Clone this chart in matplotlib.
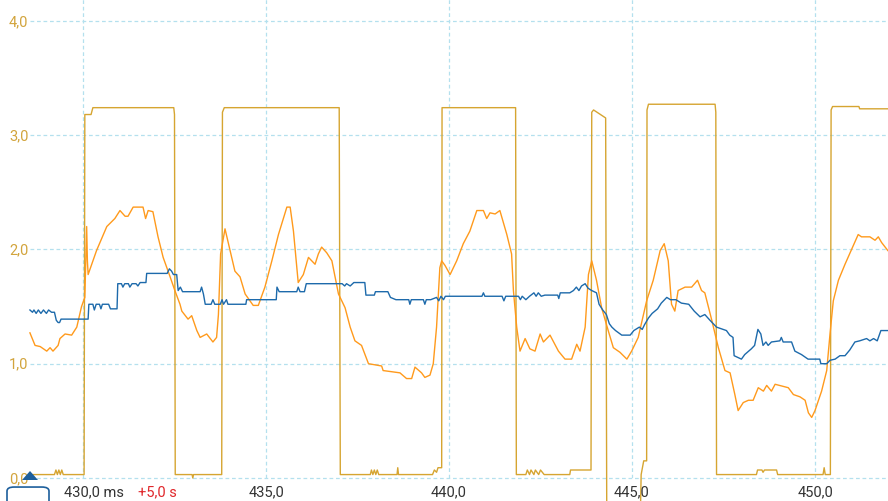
import numpy as np
import matplotlib
matplotlib.use("Agg")
import matplotlib.pyplot as plt
from matplotlib.patches import FancyBboxPatch, Polygon

plt.rcParams['font.family'] = ['Roboto', 'DejaVu Sans']

# gold square wave (V) over time (ms)
gold_t = [428.55, 429.22, 429.26, 429.30, 429.34, 429.38, 429.42, 429.46, 430.03, 430.05, 430.22, 430.27,
          432.48, 432.50, 432.52, 432.98, 433.00, 433.02, 433.79, 433.81, 433.86,
          437.00, 437.03, 437.85, 437.88, 437.92, 437.96, 438.00, 438.04, 438.08, 438.58, 438.60, 438.62,
          439.55, 439.60, 439.66, 439.70, 439.80, 439.81, 441.82, 441.84,
          442.10, 442.14, 442.20, 442.24, 442.32, 442.36, 442.45, 442.50, 442.60, 442.64, 443.30, 443.32,
          443.88, 443.90, 443.95, 444.28, 444.31, 445.23, 445.25, 445.32, 445.40, 445.41, 445.45,
          447.27, 447.29, 447.31, 448.40, 448.43, 448.55, 448.58, 448.62, 448.95, 448.98,
          450.22, 450.25, 450.28, 450.42, 450.44, 450.48, 451.20, 451.22, 451.99]
gold_v = [0.03, 0.03, 0.07, 0.03, 0.07, 0.03, 0.07, 0.03, 0.03, 3.18, 3.18, 3.24,
          3.24, 3.18, 0.03, 0.03, 0.00, 0.03, 0.03, 3.20, 3.24,
          3.24, 0.03, 0.03, 0.07, 0.03, 0.07, 0.03, 0.07, 0.03, 0.03, 0.09, 0.03,
          0.03, 0.07, 0.05, 0.09, 0.09, 3.24, 3.24, 0.03,
          0.03, 0.07, 0.03, 0.07, 0.03, 0.07, 0.03, 0.07, 0.03, 0.03, 0.03, 0.07,
          0.07, 3.20, 3.22, 3.15, -0.30, -0.30, 0.03, 0.15, 0.15, 3.22, 3.27,
          3.27, 3.20, 0.03, 0.03, 0.07, 0.07, 0.05, 0.07, 0.07, 0.03,
          0.03, 0.09, 0.03, 0.03, 3.22, 3.25, 3.25, 3.23, 3.23]

# orange analog signal
orange_t = [428.55, 428.69, 428.83, 429.01, 429.10, 429.18, 429.32, 429.37, 429.51, 429.69, 429.83, 429.96,
            430.05, 430.10, 430.12, 430.14, 430.37, 430.65, 430.87, 431.01, 431.15, 431.23, 431.37, 431.64,
            431.71, 431.78, 431.91, 432.05, 432.19, 432.38, 432.51, 432.65, 432.70, 432.87, 432.97, 433.11,
            433.20, 433.38, 433.55, 433.65, 433.70, 433.76, 433.88, 434.02, 434.15, 434.29, 434.43, 434.65,
            434.79, 434.97, 435.16, 435.34, 435.57, 435.66, 435.75, 435.88, 436.02, 436.16, 436.34, 436.43,
            436.52, 436.66, 436.80, 436.98, 437.16, 437.30, 437.43, 437.61, 437.80, 438.16, 438.20, 438.66,
            438.84, 438.98, 439.07, 439.25, 439.34, 439.48, 439.57, 439.66, 439.75, 439.80, 439.89, 440.03,
            440.21, 440.39, 440.57, 440.76, 440.94, 441.03, 441.12, 441.26, 441.39, 441.58, 441.71, 441.76,
            441.85, 441.94, 442.08, 442.21, 442.35, 442.49, 442.58, 442.76, 442.99, 443.17, 443.35, 443.49,
            443.58, 443.72, 443.81, 443.90, 444.03, 444.17, 444.35, 444.49, 444.67, 444.86, 444.99, 445.17,
            445.40, 445.58, 445.77, 445.88, 445.99, 446.08, 446.17, 446.26, 446.45, 446.63, 446.79, 446.90,
            446.99, 447.18, 447.36, 447.54, 447.68, 447.81, 447.90, 448.04, 448.18, 448.31, 448.45, 448.59,
            448.68, 448.81, 448.91, 449.27, 449.41, 449.59, 449.73, 449.82, 449.91, 450.00, 450.18, 450.32,
            450.41, 450.50, 450.64, 450.82, 451.00, 451.18, 451.27, 451.50, 451.64, 451.73, 451.82, 451.99]
orange_v = [1.27, 1.16, 1.15, 1.11, 1.14, 1.11, 1.16, 1.22, 1.26, 1.25, 1.32, 1.50,
            1.58, 2.20, 1.90, 1.78, 1.99, 2.20, 2.27, 2.34, 2.29, 2.29, 2.37, 2.37,
            2.27, 2.34, 2.33, 2.11, 1.93, 1.76, 1.64, 1.52, 1.46, 1.39, 1.42, 1.29,
            1.23, 1.26, 1.19, 1.23, 1.43, 1.96, 2.18, 1.99, 1.81, 1.76, 1.61, 1.51,
            1.51, 1.67, 1.90, 2.13, 2.37, 2.37, 2.16, 1.71, 1.78, 1.93, 1.87, 1.96,
            2.02, 1.97, 1.90, 1.61, 1.49, 1.32, 1.20, 1.16, 1.00, 0.98, 0.94, 0.92,
            0.87, 0.87, 0.97, 0.92, 0.88, 0.90, 1.00, 1.32, 1.84, 1.90, 1.86, 1.78,
            1.90, 2.05, 2.16, 2.34, 2.34, 2.27, 2.32, 2.31, 2.34, 2.13, 1.96, 1.64,
            1.32, 1.11, 1.22, 1.13, 1.11, 1.26, 1.19, 1.25, 1.11, 1.04, 1.04, 1.17,
            1.11, 1.32, 1.78, 1.90, 1.73, 1.49, 1.29, 1.14, 1.10, 1.04, 1.11, 1.23,
            1.55, 1.73, 1.99, 2.05, 1.90, 1.52, 1.46, 1.64, 1.67, 1.67, 1.73, 1.64,
            1.62, 1.38, 1.14, 0.94, 0.92, 0.73, 0.59, 0.66, 0.68, 0.68, 0.79, 0.76,
            0.81, 0.76, 0.82, 0.79, 0.73, 0.71, 0.68, 0.57, 0.53, 0.59, 0.76, 0.94,
            1.26, 1.55, 1.73, 1.87, 2.00, 2.13, 2.11, 2.11, 2.08, 2.11, 2.06, 1.99]

# blue stepped signal
blue_t = [428.55, 428.62, 428.66, 428.72, 428.78, 428.85, 428.92, 429.00, 429.06, 429.14, 429.22, 429.27,
          429.32, 429.36, 429.40, 430.14, 430.16, 430.27, 430.31, 430.36, 430.45, 430.49, 430.53, 430.70,
          430.75, 430.93, 430.95, 431.05, 431.09, 431.14, 431.24, 431.28, 431.34, 431.45, 431.50, 431.56,
          431.72, 431.74, 432.30, 432.36, 432.42, 432.47, 432.56, 432.60, 432.66, 432.72, 433.20, 433.24,
          433.29, 433.34, 433.50, 433.55, 433.60, 433.75, 433.80, 433.84, 433.92, 433.96, 434.45, 434.47,
          435.28, 435.30, 435.36, 435.84, 435.88, 435.93, 436.05, 436.10, 437.08, 437.15, 437.20, 437.30,
          437.40, 437.70, 437.73, 437.96, 437.99, 438.33, 438.40, 438.55, 438.90, 438.93, 438.97, 439.30,
          439.34, 439.38, 439.50, 439.66, 439.72, 439.78, 439.85, 439.90, 440.90, 440.94, 440.98, 441.45,
          441.50, 441.55, 441.90, 441.95, 442.00, 442.10, 442.20, 442.32, 442.38, 442.44, 442.52, 442.62,
          442.97, 443.00, 443.04, 443.30, 443.40, 443.48, 443.55, 443.62, 443.72, 443.80, 443.90, 444.03,
          444.10, 444.20, 444.30, 444.38, 444.45, 444.55, 444.72, 444.95, 445.05, 445.20, 445.28, 445.34,
          445.45, 445.55, 445.70, 445.80, 445.95, 446.05, 446.20, 446.35, 446.55, 446.70, 446.86, 446.99,
          447.13, 447.31, 447.58, 447.67, 447.76, 447.79, 447.99, 448.08, 448.26, 448.35, 448.44, 448.52,
          448.58, 448.66, 448.72, 448.81, 449.04, 449.08, 449.13, 449.36, 449.45, 449.63, 449.81, 450.13,
          450.16, 450.32, 450.41, 450.55, 450.68, 450.82, 450.95, 451.09, 451.22, 451.41, 451.50, 451.60,
          451.70, 451.80, 451.99]
blue_v = [1.47, 1.45, 1.47, 1.44, 1.47, 1.44, 1.47, 1.44, 1.47, 1.45, 1.45, 1.38,
          1.36, 1.36, 1.39, 1.39, 1.52, 1.52, 1.47, 1.52, 1.52, 1.48, 1.52, 1.52,
          1.48, 1.48, 1.70, 1.70, 1.67, 1.70, 1.70, 1.67, 1.70, 1.70, 1.68, 1.71,
          1.71, 1.79, 1.79, 1.83, 1.81, 1.78, 1.78, 1.64, 1.67, 1.63, 1.63, 1.67,
          1.61, 1.52, 1.52, 1.56, 1.52, 1.52, 1.56, 1.52, 1.56, 1.52, 1.52, 1.56,
          1.56, 1.67, 1.63, 1.63, 1.67, 1.63, 1.63, 1.70, 1.70, 1.68, 1.70, 1.68,
          1.71, 1.71, 1.60, 1.60, 1.63, 1.63, 1.58, 1.56, 1.56, 1.52, 1.56, 1.56,
          1.52, 1.56, 1.56, 1.58, 1.55, 1.59, 1.56, 1.59, 1.59, 1.62, 1.59, 1.59,
          1.55, 1.59, 1.59, 1.56, 1.59, 1.56, 1.59, 1.62, 1.59, 1.62, 1.59, 1.60,
          1.60, 1.57, 1.62, 1.62, 1.64, 1.67, 1.64, 1.68, 1.70, 1.66, 1.64, 1.62,
          1.52, 1.47, 1.43, 1.35, 1.32, 1.29, 1.25, 1.25, 1.29, 1.32, 1.30, 1.34,
          1.40, 1.44, 1.48, 1.53, 1.58, 1.56, 1.56, 1.53, 1.52, 1.46, 1.41, 1.43,
          1.38, 1.32, 1.29, 1.25, 1.23, 1.07, 1.04, 1.08, 1.13, 1.16, 1.30, 1.26,
          1.16, 1.19, 1.16, 1.19, 1.20, 1.23, 1.19, 1.19, 1.11, 1.08, 1.04, 1.04,
          1.00, 1.00, 1.03, 1.04, 1.07, 1.07, 1.12, 1.19, 1.20, 1.22, 1.20, 1.22,
          1.20, 1.29, 1.29]

x_ticks = [430, 435, 440, 445, 450]
x_labels = ['430,0', '435,0', '440,0', '445,0', '450,0']
y_ticks = [0, 1, 2, 3, 4]
y_labels = ['0,0', '1,0', '2,0', '3,0', '4,0']

W, H = 888, 502
fig = plt.figure(figsize=(W / 100, H / 100), dpi=100)
ax = fig.add_axes([0, 23 / H, 1, 479 / H])
ax.set_xlim(430 - 83 / 36.6, 430 + 805 / 36.6)
ax.set_ylim(0, 479 / 114.3)
for s in ax.spines.values():
    s.set_visible(False)
ax.set_xticks([])
ax.set_yticks([])

grid_c = '#b4e0ee'
for xt in x_ticks:
    ax.axvline(xt, color=grid_c, lw=0.9, ls=(0, (3, 2.2)), zorder=0)
for yt in y_ticks:
    ax.axhline(yt, xmin=30 / W, color=grid_c, lw=0.9, ls=(0, (3, 2.2)), zorder=0, clip_on=False)

ax.plot(gold_t, gold_v, color='#d6a531', lw=1.0, zorder=2, clip_on=False)
ax.plot(orange_t, orange_v, color='#ff9a1c', lw=1.0, zorder=3)
ax.plot(blue_t, blue_v, color='#1d6aab', lw=1.0, zorder=4)

label_c = '#d2a43c'
for yt, lab in zip(y_ticks, y_labels):
    ax.annotate(lab, xy=(0, yt), xycoords=('axes fraction', 'data'), xytext=(9, 0),
                textcoords='offset pixels', ha='left', va='center', color=label_c,
                fontsize=10.5, annotation_clip=False, zorder=1)

for xt, lab in zip(x_ticks, x_labels):
    if xt == 430:
        ax.annotate(lab + ' ms', xy=(xt, 0), xycoords=('data', 'axes fraction'), xytext=(-19, -13),
                    textcoords='offset pixels', ha='left', va='center', color='#333333',
                    fontsize=10.5, annotation_clip=False)
        ax.annotate('+5,0 s', xy=(xt, 0), xycoords=('data', 'axes fraction'), xytext=(55, -13),
                    textcoords='offset pixels', ha='left', va='center', color='#e0262a',
                    fontsize=10.5, annotation_clip=False)
    else:
        ax.annotate(lab, xy=(xt, 0), xycoords=('data', 'axes fraction'), xytext=(0, -13),
                    textcoords='offset pixels', ha='center', va='center', color='#333333',
                    fontsize=10.5, annotation_clip=False)

# cursor marker bottom-left
box = FancyBboxPatch((7 / W, -0.02), 42 / W, 24 / H, boxstyle='round,pad=0,rounding_size=0.008',
                     transform=fig.transFigure, facecolor='white', edgecolor='#1d5f9c', lw=1.2,
                     zorder=10)
fig.patches.append(box)
tri = Polygon([(22 / W, (H - 481) / H), (38 / W, (H - 481) / H), (30 / W, (H - 472) / H)],
              closed=True, transform=fig.transFigure, facecolor='#1d5f9c', edgecolor='none', zorder=11)
fig.patches.append(tri)

fig.savefig('out.png', dpi=100)
